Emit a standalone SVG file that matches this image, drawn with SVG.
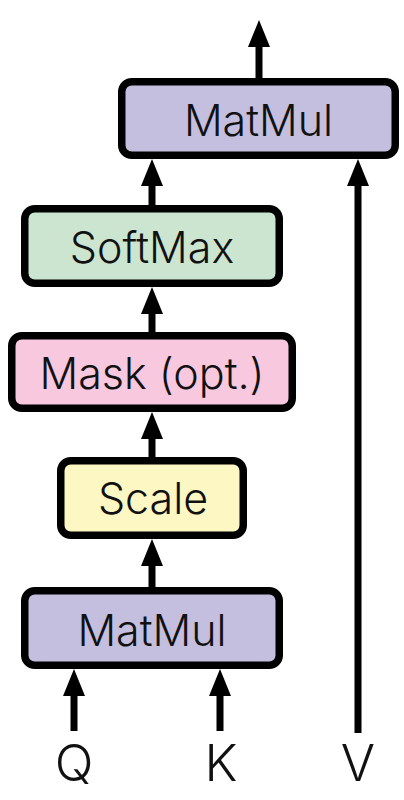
<svg xmlns="http://www.w3.org/2000/svg" width="404" height="800" viewBox="0 0 404 800">
<style>
.box{stroke:#000;stroke-width:7.5}
.lbl{font-family:Inter,"Liberation Sans",sans-serif;font-weight:300;font-size:43px;text-anchor:middle;fill:#111}
.io{font-family:Inter,"Liberation Sans",sans-serif;font-weight:300;font-size:51px;text-anchor:middle;fill:#111}
.edge{stroke:#000;stroke-width:7;fill:none;marker-end:url(#ah)}
</style>
<defs>
<marker id="ah" markerUnits="userSpaceOnUse" orient="auto" markerWidth="28" markerHeight="22" refX="12" refY="11" viewBox="0 0 28 22">
<path d="M0,0 L27,11 L0,22 Z" fill="#000"/>
</marker>
</defs>
<rect width="404" height="800" fill="#fff"/>
<g id="connectors">
<line class="edge" x1="259" y1="78" x2="259" y2="35"/>
<line class="edge" x1="152" y1="206" x2="152" y2="174"/>
<line class="edge" x1="152" y1="333" x2="152" y2="302"/>
<line class="edge" x1="152" y1="458" x2="152" y2="427"/>
<line class="edge" x1="152" y1="588" x2="152" y2="554"/>
<line class="edge" x1="74" y1="731" x2="74" y2="684"/>
<line class="edge" x1="220" y1="731" x2="220" y2="684"/>
<line class="edge" x1="358" y1="733" x2="358" y2="174"/>
</g>
<g id="matmul-top">
<rect class="box" x="121.75" y="81.75" width="273.5" height="73.5" rx="10" fill="#c4bfdf"/>
<text class="lbl" x="258.5" y="136">MatMul</text>
</g>
<g id="softmax">
<rect class="box" x="24.75" y="208.75" width="254.5" height="74.5" rx="10" fill="#cbe5d0"/>
<text class="lbl" x="152" y="263">SoftMax</text>
</g>
<g id="mask">
<rect class="box" x="11.75" y="335.75" width="280.5" height="72.5" rx="10" fill="#f7c8de"/>
<text class="lbl" x="152" y="389">Mask (opt.)</text>
</g>
<g id="scale">
<rect class="box" x="60.75" y="460.75" width="182.5" height="74.5" rx="10" fill="#fdf8c3"/>
<text class="lbl" x="153" y="514">Scale</text>
</g>
<g id="matmul-bottom">
<rect class="box" x="24.75" y="590.75" width="254.5" height="74.5" rx="10" fill="#c4bfdf"/>
<text class="lbl" x="152" y="646">MatMul</text>
</g>
<g id="q"><text class="io" x="74" y="781">Q</text></g>
<g id="k"><text class="io" x="221" y="781">K</text></g>
<g id="v"><text class="io" x="358" y="781">V</text></g>
</svg>
